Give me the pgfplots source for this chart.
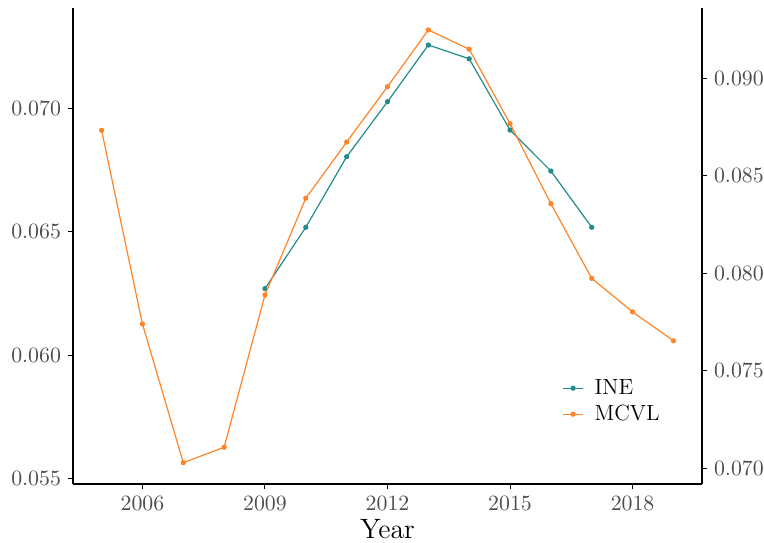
\documentclass[border=0pt]{standalone}
\usepackage{pgfplots}
\pgfplotsset{compat=1.18}
\definecolor{ineteal}{HTML}{238B8B}
\definecolor{mcvlorange}{HTML}{FF8427}
\definecolor{tickgray}{HTML}{4D4D4D}
\begin{document}
\begin{tikzpicture}
\pgfplotsset{
  common/.style={
    scale only axis, width=314.5bp, height=238bp,
    xmin=2004.3, xmax=2019.7,
    tick align=outside, major tick length=2.5bp,
    tick style={black, line width=0.5bp},
    axis line style={-, line width=1bp, black},
    ticklabel style={font=\fontsize{11bp}{13bp}\selectfont, color=tickgray},
    scaled y ticks=false,
    yticklabel style={/pgf/number format/fixed, /pgf/number format/fixed zerofill, /pgf/number format/precision=3},
    xticklabel style={/pgf/number format/1000 sep={}},
    minor tick num=0,
  },
  ine/.style={ineteal, line width=0.6bp, mark=*, mark size=1bp, mark options={solid, fill=ineteal, draw=ineteal}},
  mcvl/.style={mcvlorange, line width=0.6bp, mark=*, mark size=1bp, mark options={solid, fill=mcvlorange, draw=mcvlorange}},
}
\begin{axis}[common,
  ymin=0.05477, ymax=0.07407,
  axis x line*=bottom, axis y line*=left,
  xtick={2006,2009,2012,2015,2018},
  ytick={0.055,0.060,0.065,0.070},
  xlabel={Year},
  xlabel style={font=\fontsize{14bp}{16bp}\selectfont, at={(axis description cs:0.5,0)}, anchor=base, yshift=-27bp},
]
\coordinate (bl) at (rel axis cs:0,0);
\coordinate (tr) at (rel axis cs:1,1);
\addplot[ine] coordinates {
(2009,0.06269) (2010,0.06518) (2011,0.06804) (2012,0.07027) (2013,0.07257)
(2014,0.07201) (2015,0.06912) (2016,0.06746) (2017,0.06518)
};
\end{axis}
\begin{axis}[common,
  ymin=0.069195, ymax=0.093605,
  axis x line=none, axis y line*=right,
  ytick={0.070,0.075,0.080,0.085,0.090},
  legend style={draw=none, fill=none, at={(rel axis cs:0.768,0.174)}, anchor=west,
    font=\fontsize{11bp}{13bp}\selectfont, text=black, row sep=2bp,
    nodes={inner sep=0.5bp, text height=8bp, text depth=2bp},
    /tikz/every odd column/.append style={column sep=5bp}},
  legend cell align=left,
  legend image code/.code={\draw[mark repeat=2,mark phase=2] plot coordinates {(0bp,0bp)(5bp,0bp)(10bp,0bp)};},
]
\addlegendimage{ine}
\addlegendentry{INE}
\addplot[mcvl] coordinates {
(2005,0.08733) (2006,0.07740) (2007,0.07029) (2008,0.07108) (2009,0.07889)
(2010,0.08385) (2011,0.08673) (2012,0.08957) (2013,0.09248) (2014,0.09149)
(2015,0.08767) (2016,0.08357) (2017,0.07974) (2018,0.07802) (2019,0.07654)
};
\addlegendentry{MCVL}
\end{axis}
\pgfresetboundingbox
\path ([xshift=-36.5bp,yshift=-29.5bp]bl) rectangle ([xshift=31bp,yshift=4bp]tr);
\end{tikzpicture}
\end{document}
